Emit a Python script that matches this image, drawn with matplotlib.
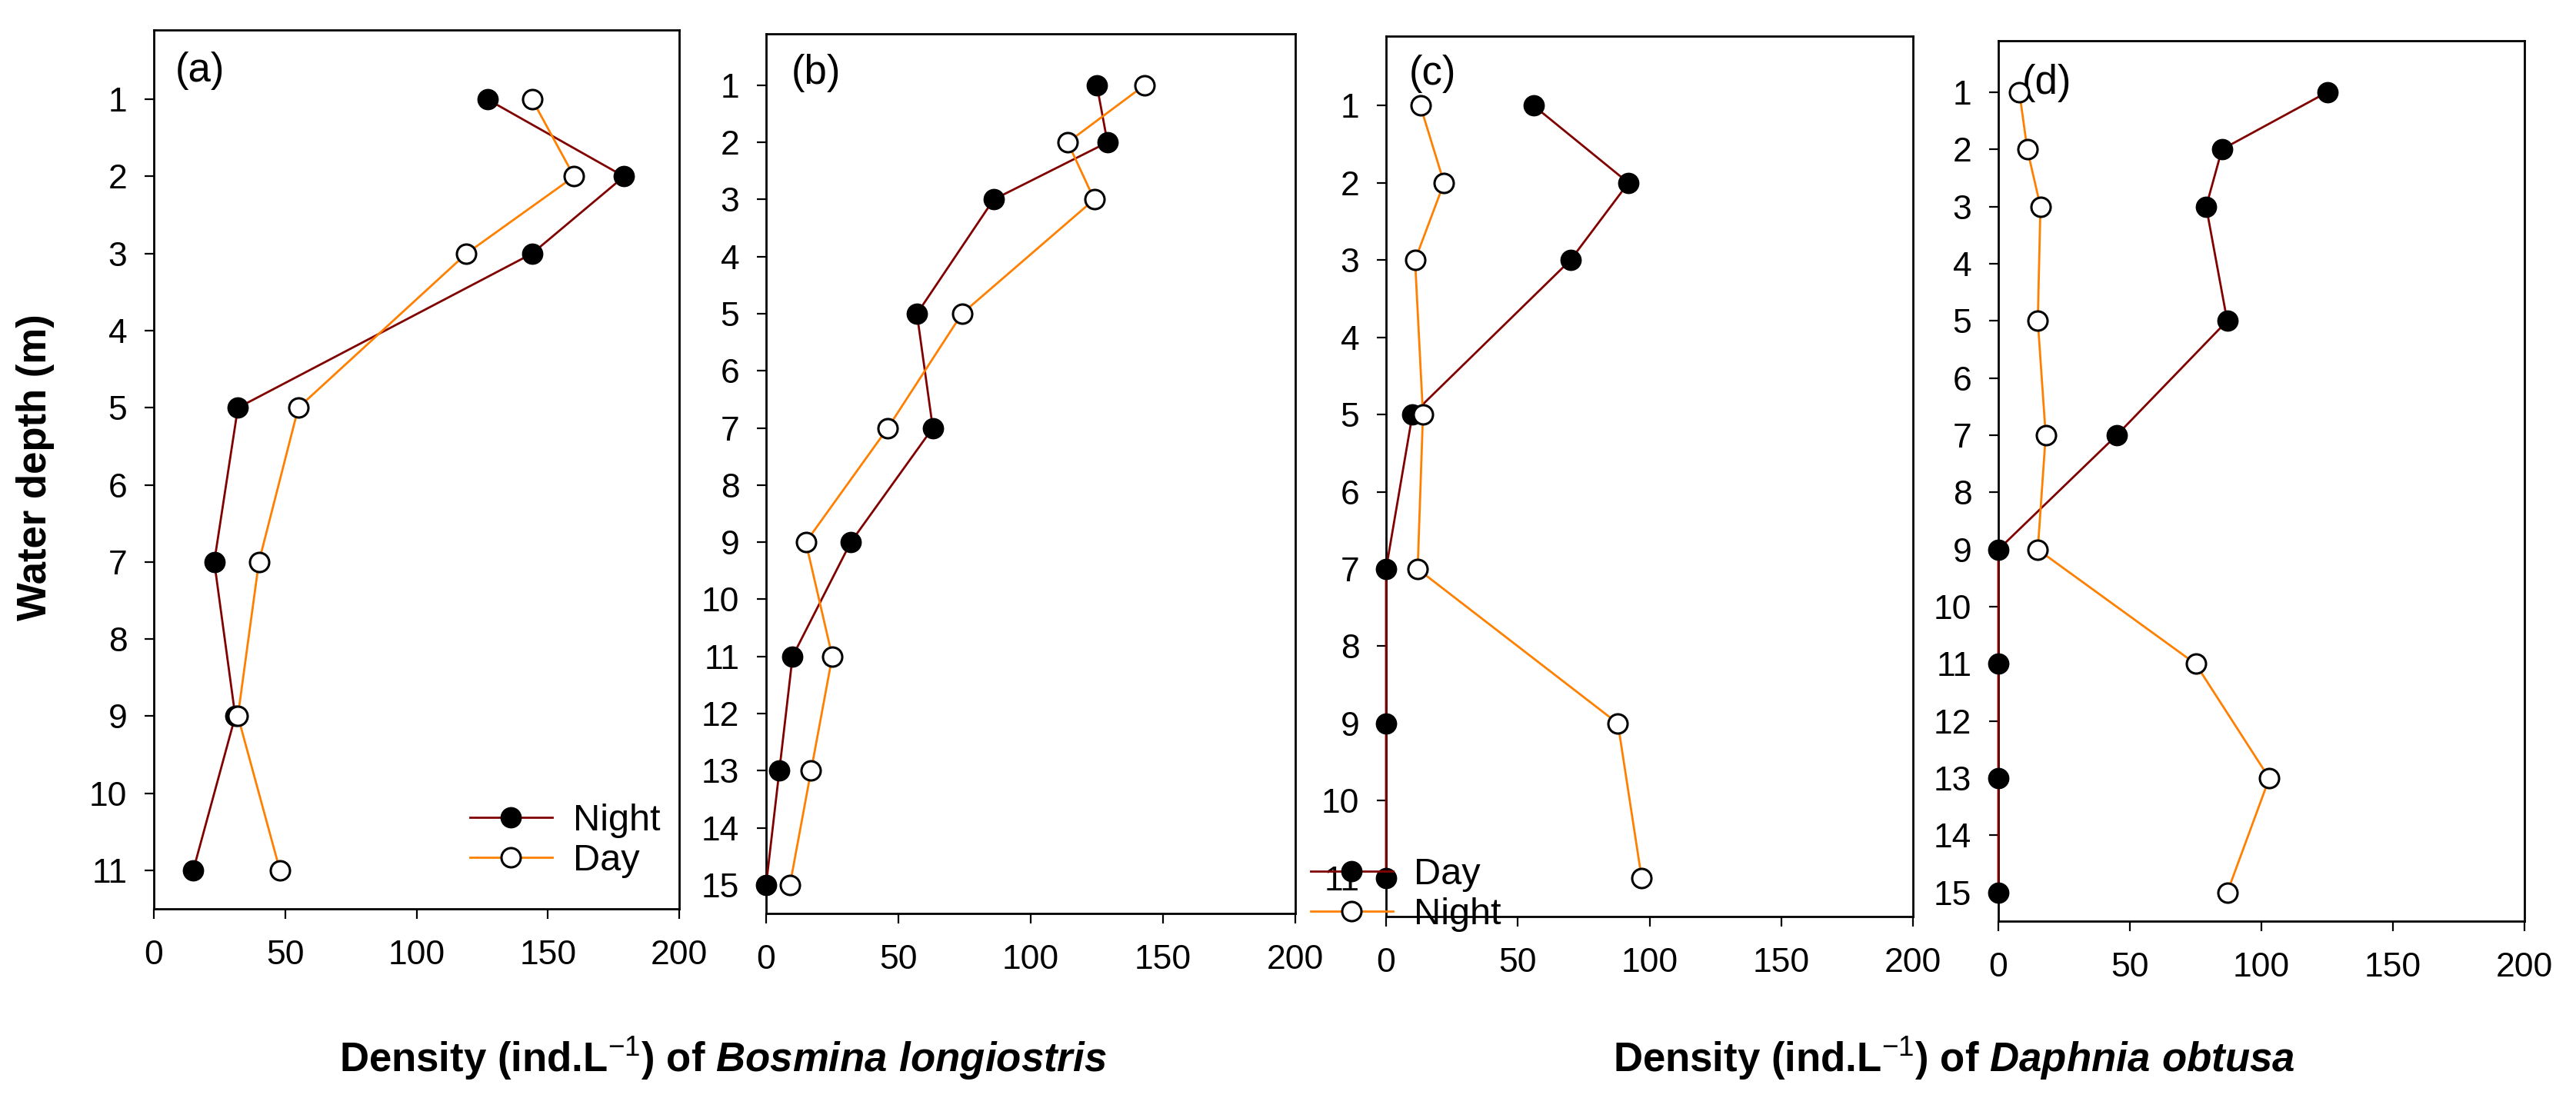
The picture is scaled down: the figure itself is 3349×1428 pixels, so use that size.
import numpy as np
import matplotlib
matplotlib.use('Agg')
import matplotlib.pyplot as plt


plt.rcParams['font.family'] = ['Liberation Sans', 'DejaVu Sans']
plt.rcParams['mathtext.fontset'] = 'custom'
plt.rcParams['mathtext.rm'] = 'Liberation Sans'
plt.rcParams['mathtext.it'] = 'Liberation Sans:italic:bold'
plt.rcParams['mathtext.bf'] = 'Liberation Sans:bold'


# Bosmina longiostris, panels (a) and (b).
depth_a = [1, 2, 3, 5, 7, 9, 11]
night_a = [127, 179, 144, 32, 23, 31, 15]
day_a = [144, 160, 119, 55, 40, 32, 48]

depth_b = [1, 2, 3, 5, 7, 9, 11, 13, 15]
night_b = [125, 129, 86, 57, 63, 32, 10, 5, 0]
day_b = [143, 114, 124, 74, 46, 15, 25, 17, 9]

# Daphnia obtusa, panels (c) and (d).
depth_c = [1, 2, 3, 5, 7, 9, 11]
night_c = [56, 92, 70, 10, 0, 0, 0]
day_c = [13, 22, 11, 14, 12, 88, 97]

depth_d = [1, 2, 3, 5, 7, 9, 11, 13, 15]
night_d = [125, 85, 79, 87, 45, 0, 0, 0, 0]
day_d = [8, 11, 16, 15, 18, 15, 75, 103, 87]

x_ticks = [0, 50, 100, 150, 200]
panel_labels = ['(a)', '(b)', '(c)', '(d)']
species = ['Bosmina\\ longiostris', 'Daphnia\\ obtusa']

nightColor = '#800000'
dayColor = '#ff8000'

W, H = 3349, 1428
fig = plt.figure(figsize=(W / 200, H / 200), dpi=200)

# axes boxes in pixels: left, top, right, bottom
boxes = [(200, 39, 883, 1182),
         (996, 44, 1684, 1188),
         (1802, 47, 2487, 1192),
         (2598, 53, 3282, 1198)]


def makeAxes(box):
    l, t, r, b = box
    return fig.add_axes([l / W, 1 - b / H, (r - l) / W, (b - t) / H])


def doPanel(ax, depth, night, day, maxDepth, label, labelPos):
    hn, = ax.plot(night, depth, color=nightColor, lw=1.0, marker='o',
                  markersize=9, markerfacecolor='black', markeredgecolor='black',
                  clip_on=False, zorder=3)
    hd, = ax.plot(day, depth, color=dayColor, lw=1.0, marker='o',
                  markersize=9, markerfacecolor='white', markeredgecolor='black',
                  markeredgewidth=1.1, clip_on=False, zorder=4)
    ax.set_xlim(0, 200)
    ax.set_ylim(maxDepth + 0.5, 0.1)
    ax.set_xticks(x_ticks)
    ax.set_yticks(np.arange(1, maxDepth + 1))
    ax.tick_params(direction='out', length=4.5, width=0.8, labelsize=16)
    ax.tick_params(axis='y', pad=8)
    ax.tick_params(axis='x', pad=10)
    for s in ax.spines.values():
        s.set_linewidth(1.0)
    ax.text(labelPos[0], labelPos[1], label, transform=ax.transAxes,
            fontsize=19, ha='left', va='center')
    return hn, hd


axs = [makeAxes(b) for b in boxes]
ha, da = doPanel(axs[0], depth_a, night_a, day_a, 11, panel_labels[0], (0.041, 0.954))
doPanel(axs[1], depth_b, night_b, day_b, 15, panel_labels[1], (0.047, 0.955))
hc, dc = doPanel(axs[2], depth_c, night_c, day_c, 11, panel_labels[2], (0.044, 0.957))
doPanel(axs[3], depth_d, night_d, day_d, 15, panel_labels[3], (0.045, 0.952))

legArgs = dict(frameon=False, fontsize=17.5, numpoints=1, handlelength=2.2,
               handletextpad=0.55, labelspacing=0.15, borderpad=0,
               borderaxespad=0, loc='upper left')
axs[0].legend([ha, da], ['Night', 'Day'],
              bbox_to_anchor=(611 / W, 1 - 1045 / H),
              bbox_transform=fig.transFigure, **legArgs)
lc = axs[2].legend([hc, dc], ['Day', 'Night'],
                   bbox_to_anchor=(1704 / W, 1 - 1115 / H),
                   bbox_transform=fig.transFigure, **legArgs)
lc.set_zorder(10)

fig.text(46 / W, 1 - 608 / H, 'Water depth (m)', rotation=90,
         fontsize=19, fontweight='bold', ha='center', va='center')
fig.text(940 / W, 1 - 1377 / H,
         r'Density (ind.L$^{-1}$) of $\mathit{%s}$' % species[0],
         fontsize=19, fontweight='bold', ha='center', va='center')
fig.text(2540 / W, 1 - 1377 / H,
         r'Density (ind.L$^{-1}$) of $\mathit{%s}$' % species[1],
         fontsize=19, fontweight='bold', ha='center', va='center')

fig.savefig('out.png', dpi=200)
